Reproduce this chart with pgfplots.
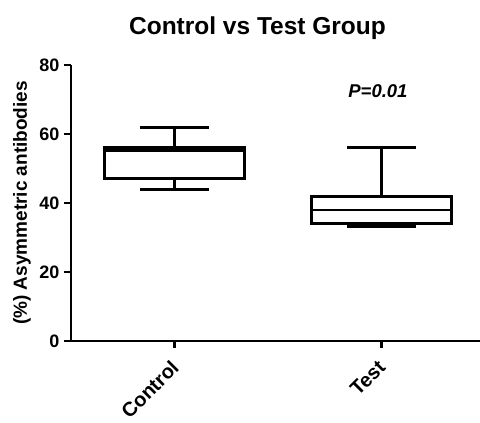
\documentclass[border=0pt]{standalone}
\usepackage{fontspec}
\setmainfont{Liberation Sans}
\usepackage{pgfplots}
\pgfplotsset{compat=1.18}
\usepgfplotslibrary{statistics}
\begin{document}
\begin{tikzpicture}
\begin{axis}[
  scale only axis,
  width=409pt, height=276pt,
  xmin=0.5, xmax=2.476,
  ymin=0, ymax=80,
  axis x line=bottom, axis y line=left,
  axis line style={-, line width=2.8pt},
  xtick style={draw=black, line width=2.8pt},
  ytick style={draw=black, line width=2.8pt},
  xtick align=outside, ytick align=outside,
  major tick length=7pt,
  ytick={0,20,40,60,80},
  xtick={1,2},
  xticklabels={Control,Test},
  x tick label style={rotate=45, anchor=north east, font=\bfseries\fontsize{20}{22}\selectfont, xshift=-7.7pt, yshift=-1pt},
  y tick label style={font=\bfseries\fontsize{18}{20}\selectfont, xshift=-1pt},
  /pgf/number format/assume math mode=true,
  ylabel={(\%) Asymmetric antibodies},
  ylabel style={at={(axis description cs:-0.1076,0.5)}, anchor=base, font=\bfseries\fontsize{19}{21}\selectfont},
  title={Control vs Test Group},
  title style={at={(axis description cs:0.456,1.087)}, anchor=base, font=\bfseries\fontsize{24.5}{28}\selectfont},
  clip=false,
  boxplot/draw direction=y,
  boxplot/box extend=0.676,
  boxplot/whisker extend=0.333,
]
\addplot+[black, solid, line width=2.8pt,
  boxplot prepared={draw position=1, median=55.3, upper quartile=56,
    lower quartile=47, upper whisker=62, lower whisker=44}]
  coordinates {};
\addplot+[black, solid, line width=2.8pt,
  boxplot prepared={draw position=2, median=38, upper quartile=42,
    lower quartile=34, upper whisker=56, lower whisker=33.2}]
  coordinates {};
% medians, drawn as thick as the box
\addplot[black, line width=2.8pt, mark=none] coordinates {(0.662,55.3) (1.338,55.3)};
\addplot[black, line width=2.8pt, mark=none] coordinates {(1.662,38) (2.338,38)};
\node[font=\bfseries\itshape\fontsize{18.5}{20}\selectfont] at (axis cs:1.983,72.5) {P=0.01};
\draw[line width=2.8pt] (axis cs:0.5,0) -- ([xshift=-7pt]axis cs:0.5,0);
\draw[line width=2.8pt] (axis cs:0.5,20) -- ([xshift=-7pt]axis cs:0.5,20);
\draw[line width=2.8pt] (axis cs:0.5,40) -- ([xshift=-7pt]axis cs:0.5,40);
\draw[line width=2.8pt] (axis cs:0.5,60) -- ([xshift=-7pt]axis cs:0.5,60);
\draw[line width=2.8pt] (axis cs:0.5,80) -- ([xshift=-7pt]axis cs:0.5,80);
\draw[line width=2.8pt] (axis cs:1,0) -- ([yshift=-7pt]axis cs:1,0);
\draw[line width=2.8pt] (axis cs:2,0) -- ([yshift=-7pt]axis cs:2,0);
\end{axis}
\pgfresetboundingbox
\path (-71pt,-82pt) rectangle (409pt,341pt);
\end{tikzpicture}
\end{document}
